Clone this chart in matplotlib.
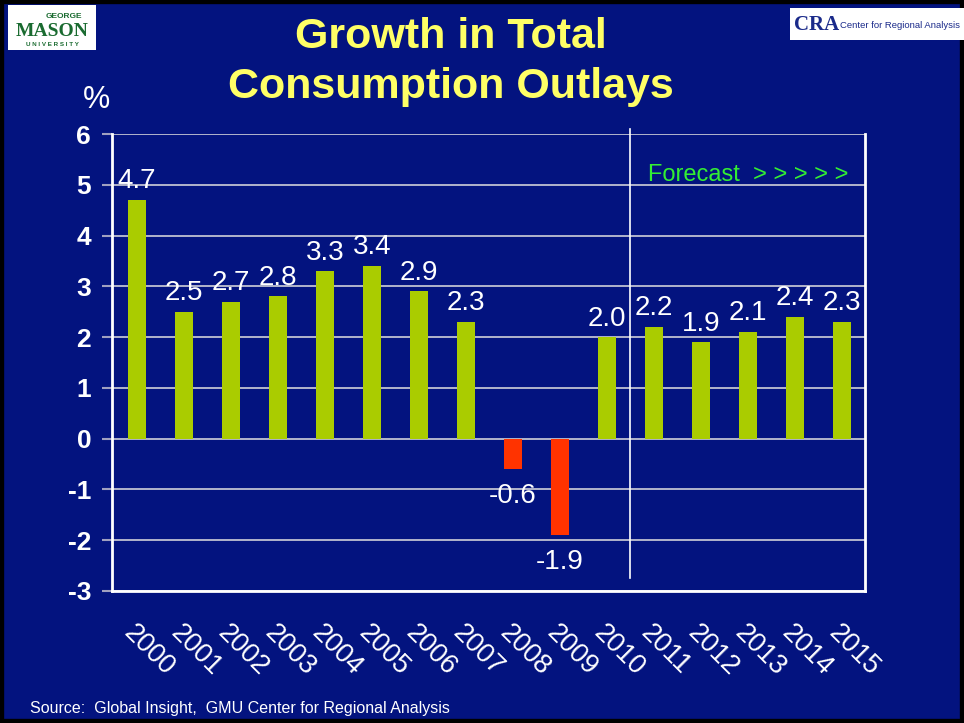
import matplotlib
matplotlib.use("Agg")
import matplotlib.pyplot as plt
from matplotlib.patches import Rectangle

years = ["2000", "2001", "2002", "2003", "2004", "2005", "2006", "2007",
         "2008", "2009", "2010", "2011", "2012", "2013", "2014", "2015"]
values = [4.7, 2.5, 2.7, 2.8, 3.3, 3.4, 2.9, 2.3, -0.6, -1.9, 2.0, 2.2, 1.9, 2.1, 2.4, 2.3]
yticks = [-3, -2, -1, 0, 1, 2, 3, 4, 5, 6]

NAVY = "#03137F"
GREEN = "#AACC00"
RED = "#FF3300"

fig = plt.figure(figsize=(9.64, 7.23), dpi=100, facecolor=NAVY)

# black border of slide
fig.patches.append(Rectangle((0, 0), 1, 1, transform=fig.transFigure, fill=False,
                             edgecolor="black", linewidth=6, zorder=0))

ax = fig.add_axes([112/964, 1-591/723, 753/964, (591-134)/723])
ax.set_facecolor(NAVY)

x = list(range(len(years)))
colors = [GREEN if v >= 0 else RED for v in values]
ax.bar(x, values, width=0.38, color=colors, zorder=3)

for xi, v in zip(x, values):
    if v >= 0:
        ax.annotate(f"{v:.1f}", (xi, v), xytext=(0, 4), textcoords="offset points",
                    ha="center", va="bottom", color="white", fontsize=20,
                    family="Liberation Sans", zorder=4)
    else:
        ax.annotate(f"{v:.1f}", (xi, v), xytext=(0, -10), textcoords="offset points",
                    ha="center", va="top", color="white", fontsize=20,
                    family="Liberation Sans", zorder=4)

ax.set_xlim(-0.53, 15.49)
ax.set_ylim(-3, 6)
ax.set_yticks(yticks)
ax.set_yticklabels([str(t) for t in yticks], color="white", fontsize=19,
                   fontweight="bold", family="Liberation Sans")
ax.tick_params(axis="y", length=7, color="#A0A0C0", width=1.5, pad=8)
ax.set_xticks(x)
ax.set_xticklabels(years, rotation=-45, ha="left", va="top", rotation_mode="anchor",
                   color="white", fontsize=19.5, family="Liberation Sans")
ax.tick_params(axis="x", length=0, pad=21)

ax.grid(axis="y", color="#D0D0D8", linewidth=1.2, zorder=1)
for s in ["left", "bottom", "right"]:
    ax.spines[s].set_color("white")
    ax.spines[s].set_linewidth(2)
ax.spines["top"].set_visible(False)

# forecast separator
ax.plot([10.5, 10.5], [-2.75, 6.1], color="white", linewidth=1.2, clip_on=False, zorder=2)
ax.text(10.87, 5.2, "Forecast  > > > > >", color="#33EE33", fontsize=17,
        family="Liberation Sans", ha="left", va="center", zorder=4)

# titles
fig.text(451/964, 1-37/723, "Growth in Total", color="#FFFF66", fontsize=31,
         fontweight="bold", family="Liberation Sans", ha="center", va="center")
fig.text(451/964, 1-87/723, "Consumption Outlays", color="#FFFF66", fontsize=31,
         fontweight="bold", family="Liberation Sans", ha="center", va="center")
fig.text(96/964, 1-100/723, "%", color="white", fontsize=22,
         family="Liberation Sans", ha="center", va="center")

fig.text(30/964, 1-708/723, "Source:  Global Insight,  GMU Center for Regional Analysis",
         color="white", fontsize=11.5, family="Liberation Sans", ha="left", va="center")

# logos
fig.patches.append(Rectangle((8/964, 1-50/723), 88/964, 45/723, transform=fig.transFigure,
                             facecolor="white", edgecolor="none", zorder=1))
fig.text(52/964, 1-31/723, "MASON", color="#1A6B30", fontsize=14, fontweight="bold",
         family="Liberation Serif", ha="center", va="center", zorder=2)
fig.text(64/964, 1-17/723, "GEORGE", color="#1A6B30", fontsize=6, fontweight="bold",
         family="Liberation Sans", ha="center", va="center", zorder=2)
fig.text(52/964, 1-44/723, "U N I V E R S I T Y", color="#1A6B30", fontsize=4.5,
         fontweight="bold", family="Liberation Sans", ha="center", va="center", zorder=2)
fig.patches.append(Rectangle((790/964, 1-40/723), 174/964, 32/723, transform=fig.transFigure,
                             facecolor="white", edgecolor="none", zorder=1))
fig.text(794/964, 1-25/723, "CRA", color="#1A2A8A", fontsize=15, fontweight="bold",
         family="Liberation Serif", ha="left", va="center", zorder=2)
fig.text(840/964, 1-26/723, "Center for Regional Analysis", color="#1A2A8A", fontsize=6.8,
         family="Liberation Sans", ha="left", va="center", zorder=2)

fig.savefig("out.png", dpi=100, facecolor=NAVY)
